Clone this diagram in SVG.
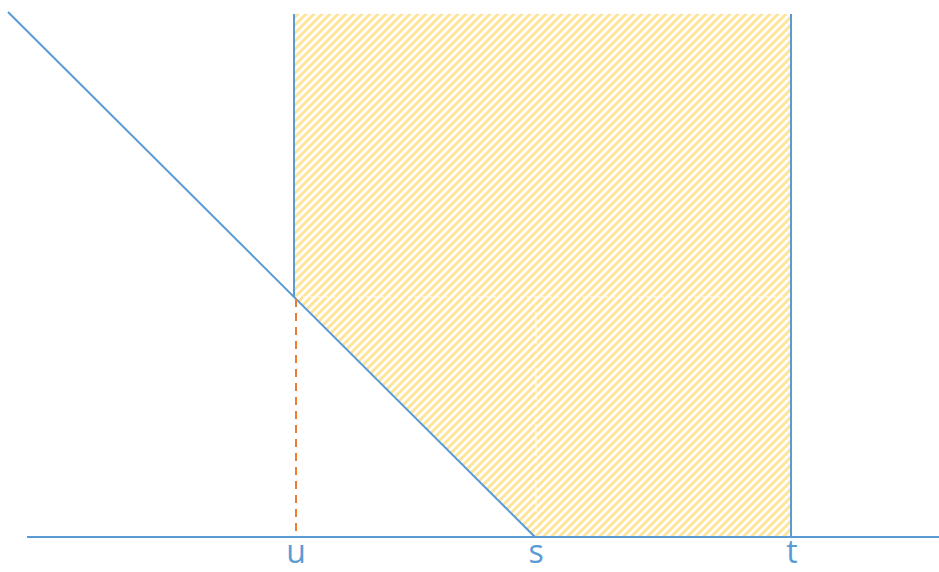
<svg xmlns="http://www.w3.org/2000/svg" width="939" height="572" viewBox="0 0 939 572">
<defs>
<pattern id="hatch" patternUnits="userSpaceOnUse" width="8" height="8">
<path d="M-2,2 L2,-2 M0,8 L8,0 M6,10 L10,6" stroke="#FFE497" stroke-width="3"/>
</pattern>
</defs>
<style>
.ln{stroke:#5B9BD5;stroke-width:2;fill:none}
.dash{stroke:#ED7D31;stroke-width:2;stroke-dasharray:8,6;fill:none}
.seam{stroke:#FFFFFF;stroke-width:1.2;stroke-dasharray:4,3;fill:none}
.lbl{font-family:"Open Sans","Liberation Sans",sans-serif;font-size:32px;fill:#5B9BD5;text-anchor:middle}
</style>
<g id="region">
<polygon points="294,14 791,14 791,537 535,537 294,297" fill="url(#hatch)"/>
<line class="seam" x1="296" y1="297" x2="790" y2="297"/>
<line class="seam" x1="536" y1="298" x2="536" y2="536"/>
</g>
<g id="connectors">
<line class="ln" x1="27" y1="537" x2="939" y2="537"/>
<line class="ln" x1="8" y1="12" x2="535" y2="537"/>
<line class="ln" x1="294" y1="14" x2="294" y2="297"/>
<line class="ln" x1="791" y1="14" x2="791" y2="537"/>
<line class="dash" x1="296" y1="299" x2="296" y2="537"/>
</g>
<g id="label-u"><text class="lbl" x="296" y="563">u</text></g>
<g id="label-s"><text class="lbl" x="536" y="563">s</text></g>
<g id="label-t"><text class="lbl" x="792" y="563">t</text></g>
</svg>
